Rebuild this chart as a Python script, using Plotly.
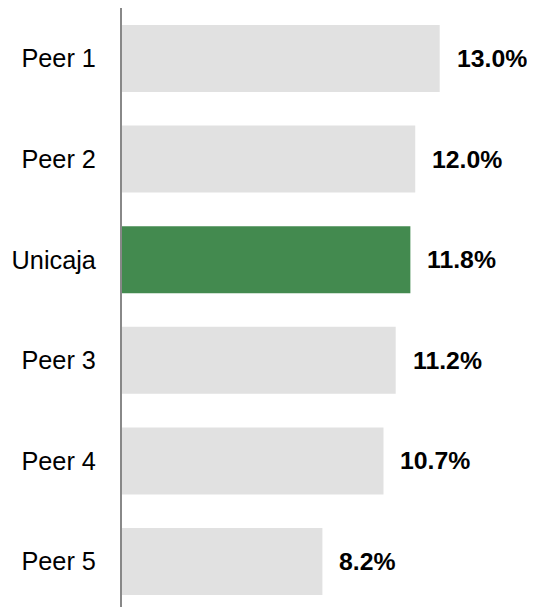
import plotly.graph_objects as go

categories = ["Peer 1", "Peer 2", "Unicaja", "Peer 3", "Peer 4", "Peer 5"]
values = [13.0, 12.0, 11.8, 11.2, 10.7, 8.2]
labels = ["13.0%", "12.0%", "11.8%", "11.2%", "10.7%", "8.2%"]
highlight = "Unicaja"

colors = ["#438a4f" if c == highlight else "#e1e1e1" for c in categories]
FONT = "Liberation Sans, Arial"

fig = go.Figure()
fig.add_trace(go.Bar(
    y=categories, x=values, orientation="h",
    marker=dict(color=colors, line=dict(width=0)),
    width=0.666, hoverinfo="skip",
))

for c, v, t in zip(categories, values, labels):
    fig.add_annotation(x=v, y=c, text="<b>" + t + "</b>", showarrow=False,
                       xanchor="left", yanchor="middle", xshift=15,
                       font=dict(family=FONT, size=24.8, color="#000000"))

fig.update_layout(
    width=527, height=599,
    margin=dict(l=114, r=0, t=0, b=0, pad=0),
    paper_bgcolor="white", plot_bgcolor="white",
    showlegend=False,
    xaxis=dict(range=[0, 16.9], visible=False, fixedrange=True),
    yaxis=dict(categoryorder="array", categoryarray=categories,
               range=[5.452, -0.502], showgrid=False, zeroline=False,
               showline=True, linecolor="#888888", linewidth=2,
               ticks="", ticklabelstandoff=19,
               tickfont=dict(family=FONT, size=25.3, color="#000000")),
)

fig.write_html("out.html")
